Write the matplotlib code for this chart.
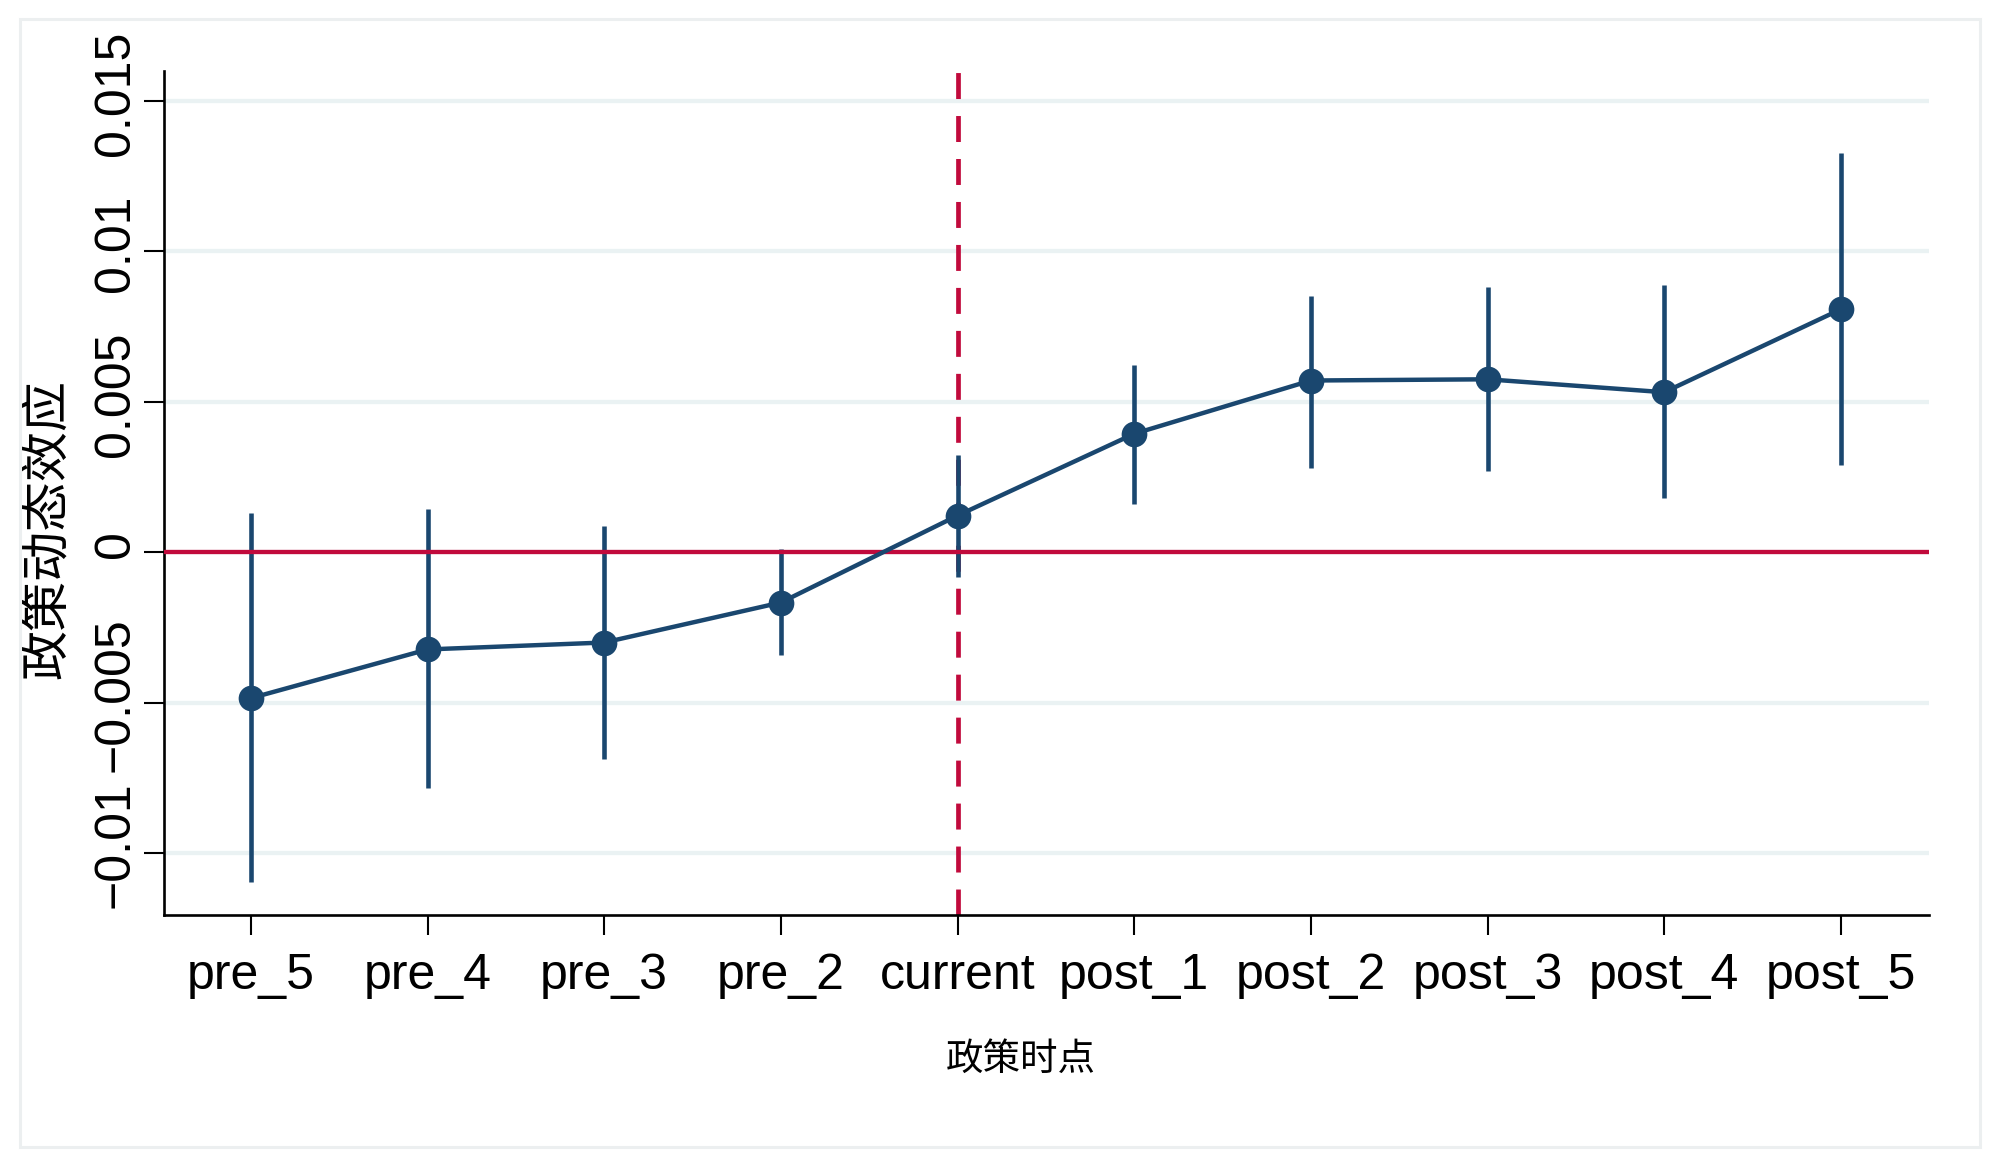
import numpy as np
import matplotlib
matplotlib.use('Agg')
import matplotlib.pyplot as plt
import matplotlib.transforms as mtransforms
from matplotlib.patches import Rectangle

# event-study estimates
periods = ['pre_5', 'pre_4', 'pre_3', 'pre_2', 'current',
           'post_1', 'post_2', 'post_3', 'post_4', 'post_5']
coef = [-0.00485, -0.00323, -0.00300, -0.00167, 0.00122,
        0.00394, 0.00571, 0.00575, 0.00532, 0.00808]
ci_low = [-0.01097, -0.00784, -0.00688, -0.00343, -0.00082,
          0.00159, 0.00280, 0.00270, 0.00181, 0.00291]
ci_high = [0.00132, 0.00143, 0.00088, 0.00012, 0.00325,
           0.00624, 0.00851, 0.00881, 0.00887, 0.01327]
yticks = [-0.01, -0.005, 0, 0.005, 0.01, 0.015]
ytick_labels = ['\u22120.01', '\u22120.005', '0', '0.005', '0.01', '0.015']

navy = '#1a476f'
red = '#c10a3c'
grid_col = '#eaf2f3'

plt.rcParams['font.family'] = ['Liberation Sans', 'DejaVu Sans']
cjk = ['Noto Sans CJK SC', 'DejaVu Sans']

fig = plt.figure(figsize=(20, 11.51), dpi=100)
ax = fig.add_axes([0.08215, 0.2050, 0.8825, 0.7336])

x = np.arange(len(periods))
coef_a = np.array(coef)
err = [coef_a - np.array(ci_low), np.array(ci_high) - coef_a]

ax.axvline(periods.index('current'), color=red, lw=3.4,
           linestyle=(0, (5.5, 3.6)), zorder=2)
ax.errorbar(x, coef, yerr=err, fmt='none', ecolor=navy, elinewidth=3.3,
            capsize=0, zorder=3)
ax.axhline(0, color=red, lw=3.1, zorder=4)
ax.plot(x, coef, '-o', color=navy, lw=3.2, markersize=18.5,
        markeredgewidth=0, zorder=5)

ax.set_xlim(-0.49, 9.5)
ax.set_ylim(-0.01206, 0.01601)
ax.set_xticks(x)
ax.set_xticklabels(periods)
ax.set_yticks(yticks)
ax.set_yticklabels(ytick_labels, rotation=90, va='center')

ax.yaxis.grid(True, color=grid_col, lw=3.1, zorder=0)
ax.set_axisbelow(True)
for s in ['top', 'right']:
    ax.spines[s].set_visible(False)
for s in ['left', 'bottom']:
    ax.spines[s].set_linewidth(1.9)

ax.tick_params(axis='both', length=14.4, width=1.5, labelsize=36)
ax.tick_params(axis='x', pad=13)
ax.tick_params(axis='y', pad=4)

# Stata puts the rotated y labels a bit above the tick
for lbl in ax.get_yticklabels():
    lbl.set_transform(lbl.get_transform() +
                      mtransforms.ScaledTranslation(0, 8 / 100, fig.dpi_scale_trans))

ax.set_xlabel('政策时点', fontsize=27, family=cjk)
ax.xaxis.label.set_va('center')
ax.xaxis.set_label_coords(0.4854, -0.1706)
ax.set_ylabel('政策动态效应', fontsize=36, family=cjk)
ax.yaxis.label.set_va('center')
ax.yaxis.set_label_coords(-0.0665, 0.457)

# light outer frame around the graph region
fig.patches.append(Rectangle((20 / 2000, 1 - 1147 / 1151), 1960 / 2000, 1128 / 1151,
                             transform=fig.transFigure, fill=False,
                             edgecolor='#eceff0', lw=2.2))

plt.savefig('out.png', dpi=100)
